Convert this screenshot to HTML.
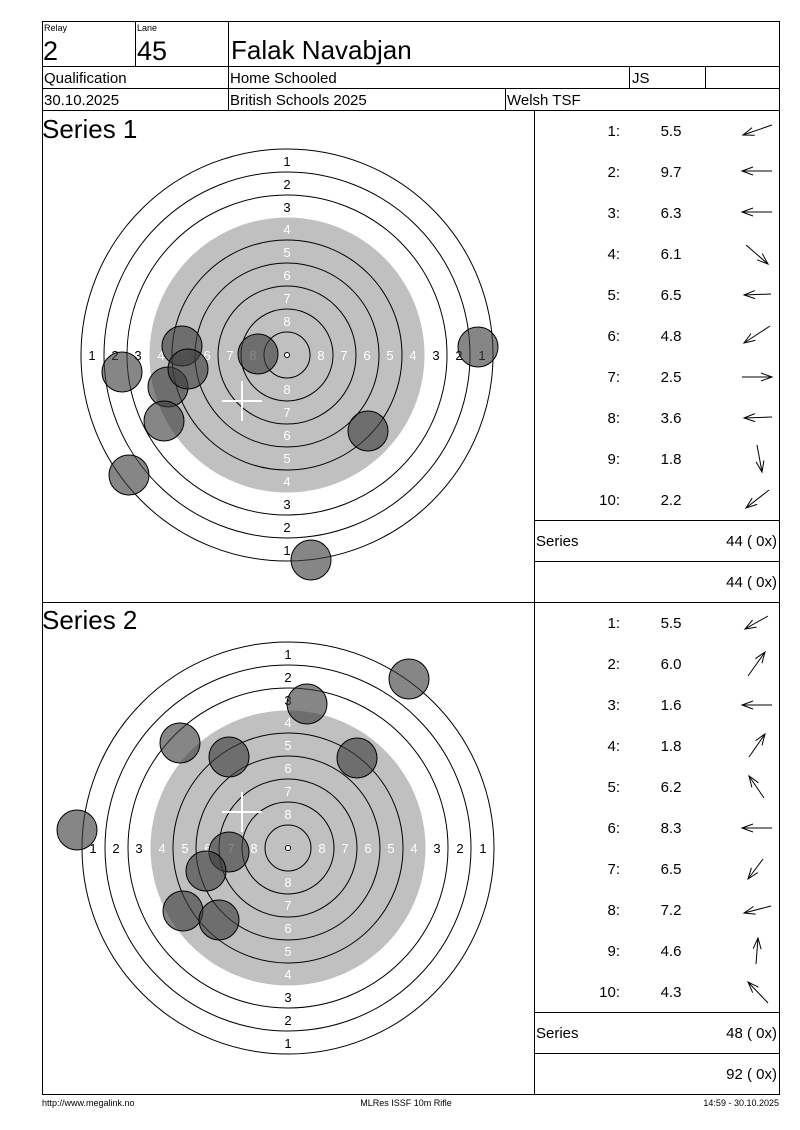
<!DOCTYPE html>
<html><head><meta charset="utf-8"><style>
body{margin:0;background:#fff;}
svg{display:block;font-family:"Liberation Sans",Arial,sans-serif;}
</style></head><body>
<svg width="800" height="1130" viewBox="0 0 800 1130" xmlns="http://www.w3.org/2000/svg">
<defs>
<marker id="ah" markerWidth="14" markerHeight="12" refX="12" refY="6" orient="auto" markerUnits="userSpaceOnUse">
<path d="M1,2 L12,6 L1,10" fill="none" stroke="#000" stroke-width="1"/>
</marker>
</defs>
<g stroke="#000" stroke-width="1" fill="none" shape-rendering="crispEdges">
<rect x="42.5" y="21.5" width="737" height="1073"/>
<line x1="42" y1="66.5" x2="780" y2="66.5"/>
<line x1="42" y1="88.5" x2="780" y2="88.5"/>
<line x1="42" y1="110.5" x2="780" y2="110.5"/>
<line x1="135.5" y1="21" x2="135.5" y2="66"/>
<line x1="228.5" y1="21" x2="228.5" y2="110"/>
<line x1="629.5" y1="66" x2="629.5" y2="88"/>
<line x1="705.5" y1="66" x2="705.5" y2="88"/>
<line x1="505.5" y1="88" x2="505.5" y2="110"/>
<line x1="534.5" y1="110" x2="534.5" y2="1094"/>
<line x1="42" y1="602.5" x2="780" y2="602.5"/>
<line x1="534" y1="520.5" x2="780" y2="520.5"/>
<line x1="534" y1="561.5" x2="780" y2="561.5"/>
<line x1="534" y1="1012.5" x2="780" y2="1012.5"/>
<line x1="534" y1="1053.5" x2="780" y2="1053.5"/>
</g>
<g fill="#000">
<text x="44" y="31" font-size="9">Relay</text>
<text x="137" y="31" font-size="9">Lane</text>
<text x="43" y="60" font-size="27">2</text>
<text x="137" y="60" font-size="27">45</text>
<text x="231" y="59" font-size="26">Falak Navabjan</text>
<text x="44" y="83" font-size="15">Qualification</text>
<text x="230" y="83" font-size="15">Home Schooled</text>
<text x="632" y="83" font-size="15">JS</text>
<text x="44" y="105" font-size="15">30.10.2025</text>
<text x="230" y="105" font-size="15">British Schools 2025</text>
<text x="507" y="105" font-size="15">Welsh TSF</text>
<text x="42" y="138" font-size="26">Series 1</text>
<text x="42" y="629" font-size="26">Series 2</text>
<text x="536" y="546" font-size="15">Series</text>
<text x="777" y="546" font-size="15" text-anchor="end">44 ( 0x)</text>
<text x="777" y="587" font-size="15" text-anchor="end">44 ( 0x)</text>
<text x="536" y="1038" font-size="15">Series</text>
<text x="777" y="1038" font-size="15" text-anchor="end">48 ( 0x)</text>
<text x="777" y="1079" font-size="15" text-anchor="end">92 ( 0x)</text>
<text x="42" y="1106" font-size="9">http://www.megalink.no</text>
<text x="406" y="1106" font-size="9" text-anchor="middle">MLRes ISSF 10m Rifle</text>
<text x="779" y="1106" font-size="9" text-anchor="end">14:59 - 30.10.2025</text>
</g>
<g font-size="15" fill="#000">
<g text-anchor="end">
<text x="620" y="136">1:</text><text x="620" y="177">2:</text><text x="620" y="218">3:</text><text x="620" y="259">4:</text><text x="620" y="300">5:</text><text x="620" y="341">6:</text><text x="620" y="382">7:</text><text x="620" y="423">8:</text><text x="620" y="464">9:</text><text x="620" y="505">10:</text>
<text x="620" y="628">1:</text><text x="620" y="669">2:</text><text x="620" y="710">3:</text><text x="620" y="751">4:</text><text x="620" y="792">5:</text><text x="620" y="833">6:</text><text x="620" y="874">7:</text><text x="620" y="915">8:</text><text x="620" y="956">9:</text><text x="620" y="997">10:</text>
</g>
<g text-anchor="middle">
<text x="671" y="136">5.5</text><text x="671" y="177">9.7</text><text x="671" y="218">6.3</text><text x="671" y="259">6.1</text><text x="671" y="300">6.5</text><text x="671" y="341">4.8</text><text x="671" y="382">2.5</text><text x="671" y="423">3.6</text><text x="671" y="464">1.8</text><text x="671" y="505">2.2</text>
<text x="671" y="628">5.5</text><text x="671" y="669">6.0</text><text x="671" y="710">1.6</text><text x="671" y="751">1.8</text><text x="671" y="792">6.2</text><text x="671" y="833">8.3</text><text x="671" y="874">6.5</text><text x="671" y="915">7.2</text><text x="671" y="956">4.6</text><text x="671" y="997">4.3</text>
</g>
</g>
<g stroke="#000" stroke-width="1" marker-end="url(#ah)">
<line x1="772" y1="125" x2="743" y2="135"/>
<line x1="772" y1="171" x2="742" y2="171"/>
<line x1="772" y1="212" x2="742" y2="212"/>
<line x1="746" y1="245" x2="768" y2="264"/>
<line x1="771" y1="294" x2="744" y2="295"/>
<line x1="770" y1="326" x2="744" y2="343"/>
<line x1="742" y1="377" x2="772" y2="377"/>
<line x1="772" y1="417" x2="744" y2="418"/>
<line x1="757" y1="445" x2="762" y2="472"/>
<line x1="769" y1="490" x2="746" y2="508"/>
<line x1="768" y1="616" x2="745" y2="629"/>
<line x1="748" y1="676" x2="765" y2="652"/>
<line x1="772" y1="705" x2="742" y2="705"/>
<line x1="749" y1="757" x2="765" y2="734"/>
<line x1="764" y1="798" x2="749" y2="776"/>
<line x1="772" y1="828" x2="742" y2="828"/>
<line x1="763" y1="859" x2="748" y2="879"/>
<line x1="771" y1="906" x2="744" y2="913"/>
<line x1="756" y1="964" x2="758" y2="938"/>
<line x1="768" y1="1003" x2="748" y2="982"/>
</g>

<!-- Target 1 -->
<g transform="translate(287,355)">
<circle r="206" fill="#fff" stroke="#000"/>
<circle r="183" fill="none" stroke="#000"/>
<circle r="160" fill="none" stroke="#000"/>
<circle r="137.5" fill="#c0c0c0"/>
<circle r="115" fill="none" stroke="#000"/>
<circle r="92" fill="none" stroke="#000"/>
<circle r="69" fill="none" stroke="#000"/>
<circle r="46" fill="none" stroke="#000"/>
<circle r="23" fill="none" stroke="#000"/>
<circle r="2.5" fill="#fff" stroke="#000"/>
<g font-size="13" text-anchor="middle">
<g fill="#000"><text y="-189">1</text><text y="-166">2</text><text y="-143">3</text><text y="200">1</text><text y="177">2</text><text y="154">3</text>
<text x="-195" y="5">1</text><text x="-172" y="5">2</text><text x="-149" y="5">3</text><text x="195" y="5">1</text><text x="172" y="5">2</text><text x="149" y="5">3</text></g>
<g fill="#fff"><text y="-121">4</text><text y="-98">5</text><text y="-75">6</text><text y="-52">7</text><text y="-29">8</text>
<text y="131">4</text><text y="108">5</text><text y="85">6</text><text y="62">7</text><text y="39">8</text>
<text x="-126" y="5">4</text><text x="-103" y="5">5</text><text x="-80" y="5">6</text><text x="-57" y="5">7</text><text x="-34" y="5">8</text>
<text x="126" y="5">4</text><text x="103" y="5">5</text><text x="80" y="5">6</text><text x="57" y="5">7</text><text x="34" y="5">8</text></g>
</g>
</g>
<g stroke="#fff" stroke-width="2"><line x1="222" y1="401" x2="262" y2="401"/><line x1="242" y1="381" x2="242" y2="421"/></g>
<g fill="rgba(60,60,60,0.62)" stroke="#000" stroke-width="1">
<circle cx="258" cy="354" r="20"/><circle cx="478" cy="347" r="20"/><circle cx="182" cy="346" r="20"/><circle cx="168" cy="387" r="20"/><circle cx="188" cy="369" r="20"/><circle cx="122" cy="372" r="20"/><circle cx="164" cy="421" r="20"/><circle cx="368" cy="431" r="20"/><circle cx="129" cy="475" r="20"/><circle cx="311" cy="560" r="20"/>
</g>

<!-- Target 2 -->
<g transform="translate(288,848)">
<circle r="206" fill="#fff" stroke="#000"/>
<circle r="183" fill="none" stroke="#000"/>
<circle r="160" fill="none" stroke="#000"/>
<circle r="137.5" fill="#c0c0c0"/>
<circle r="115" fill="none" stroke="#000"/>
<circle r="92" fill="none" stroke="#000"/>
<circle r="69" fill="none" stroke="#000"/>
<circle r="46" fill="none" stroke="#000"/>
<circle r="23" fill="none" stroke="#000"/>
<circle r="2.5" fill="#fff" stroke="#000"/>
<g font-size="13" text-anchor="middle">
<g fill="#000"><text y="-189">1</text><text y="-166">2</text><text y="-143">3</text><text y="200">1</text><text y="177">2</text><text y="154">3</text>
<text x="-195" y="5">1</text><text x="-172" y="5">2</text><text x="-149" y="5">3</text><text x="195" y="5">1</text><text x="172" y="5">2</text><text x="149" y="5">3</text></g>
<g fill="#fff"><text y="-121">4</text><text y="-98">5</text><text y="-75">6</text><text y="-52">7</text><text y="-29">8</text>
<text y="131">4</text><text y="108">5</text><text y="85">6</text><text y="62">7</text><text y="39">8</text>
<text x="-126" y="5">4</text><text x="-103" y="5">5</text><text x="-80" y="5">6</text><text x="-57" y="5">7</text><text x="-34" y="5">8</text>
<text x="126" y="5">4</text><text x="103" y="5">5</text><text x="80" y="5">6</text><text x="57" y="5">7</text><text x="34" y="5">8</text></g>
</g>
</g>
<g stroke="#fff" stroke-width="2"><line x1="222" y1="812" x2="262" y2="812"/><line x1="242" y1="792" x2="242" y2="832"/></g>
<g fill="rgba(60,60,60,0.62)" stroke="#000" stroke-width="1">
<circle cx="409" cy="679" r="20"/><circle cx="307" cy="704" r="20"/><circle cx="180" cy="743" r="20"/><circle cx="229" cy="757" r="20"/><circle cx="357" cy="758" r="20"/><circle cx="77" cy="830" r="20"/><circle cx="229" cy="852" r="20"/><circle cx="206" cy="871" r="20"/><circle cx="183" cy="911" r="20"/><circle cx="219" cy="920" r="20"/>
</g>
</svg>
</body></html>
